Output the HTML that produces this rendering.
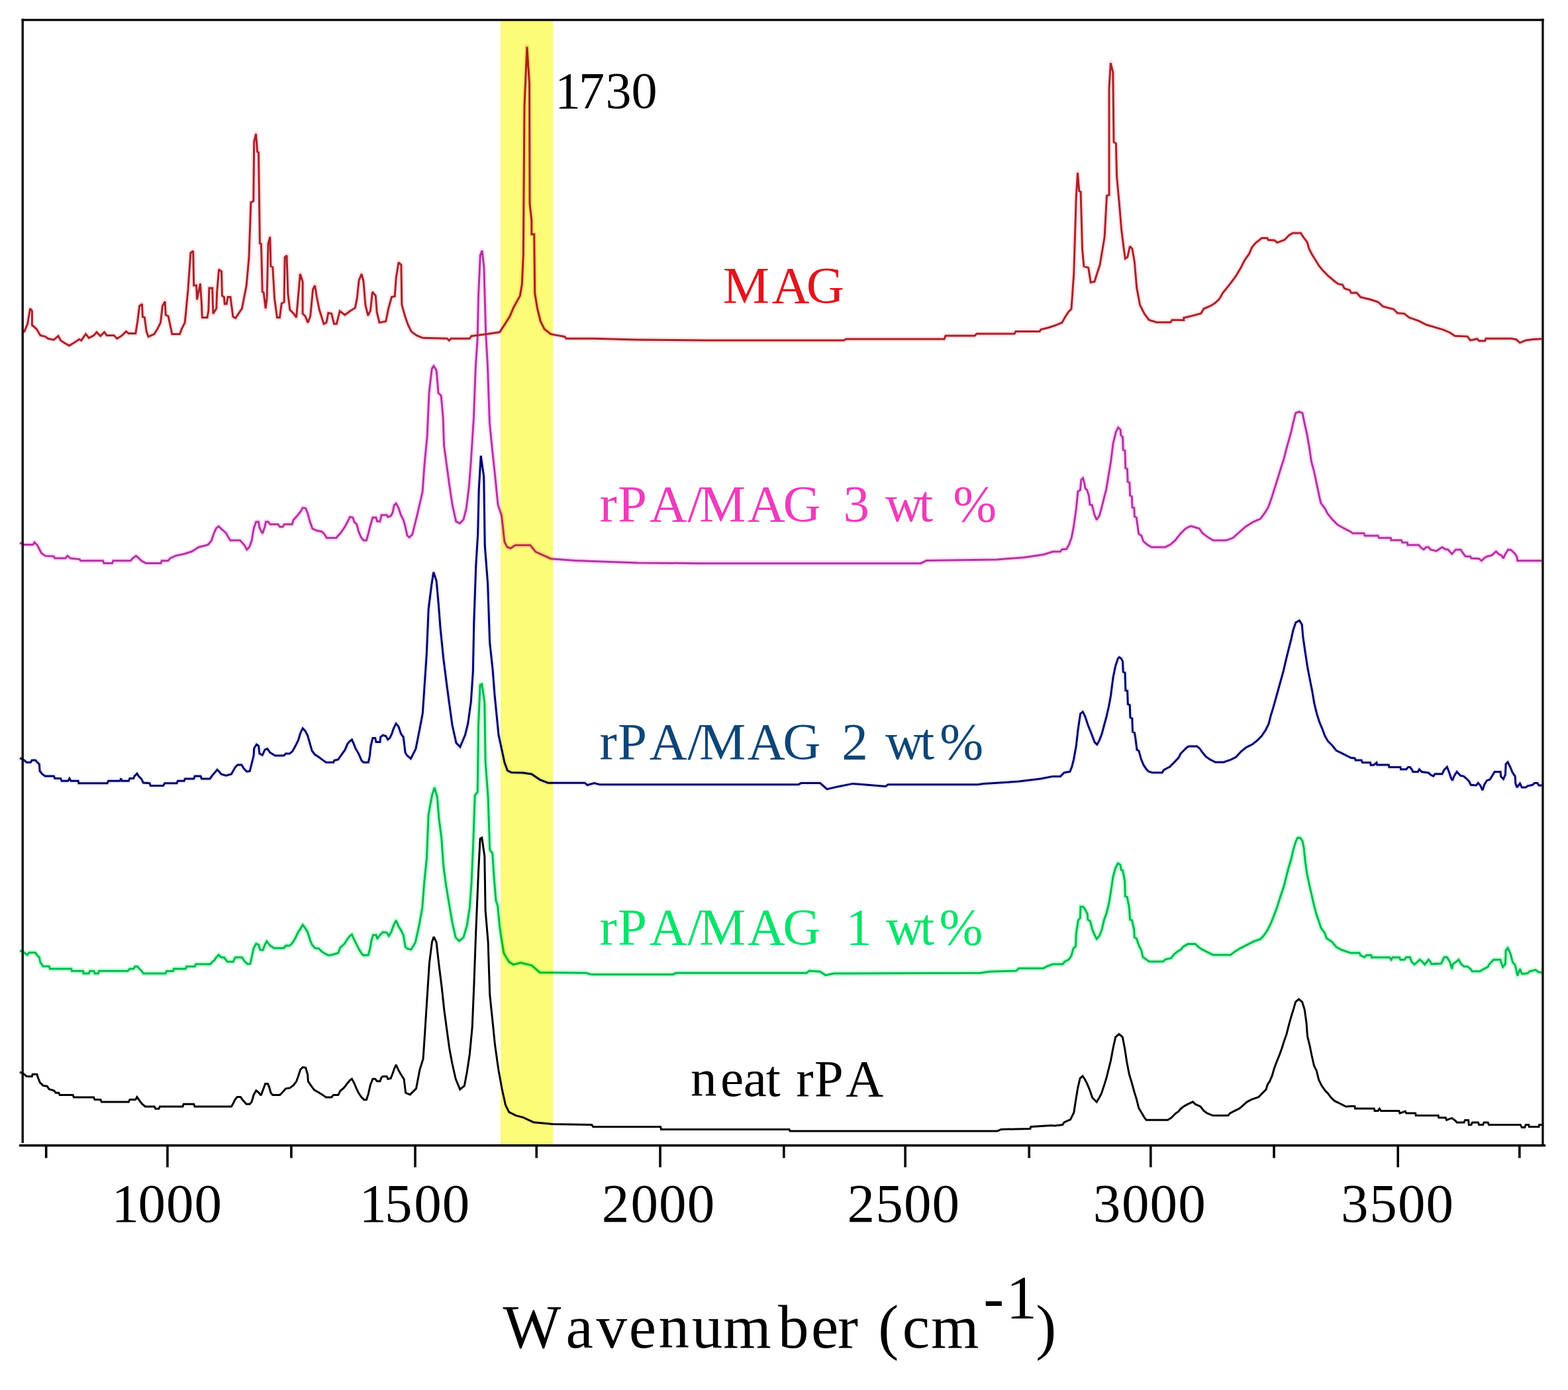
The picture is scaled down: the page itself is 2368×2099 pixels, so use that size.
<!DOCTYPE html><html><head><meta charset="utf-8"><title>FTIR spectra</title><style>html,body{margin:0;padding:0;background:#fff;}svg{display:block}</style></head><body>
<svg width="2368" height="2099" viewBox="0 0 2368 2099">
<rect x="0" y="0" width="2368" height="2099" fill="#ffffff"/>
<polyline points="30.0,1435.4 36.6,1438.6 41.0,1442.0 43.9,1438.6 53.5,1438.6 55.7,1442.0 59.4,1445.7 60.8,1453.0 65.2,1459.2 74.0,1459.2 75.5,1463.0 107.8,1463.0 108.5,1466.2 125.4,1466.2 126.1,1469.9 134.2,1469.9 135.7,1466.2 141.6,1466.2 143.0,1469.9 148.2,1469.9 149.6,1466.2 192.9,1466.2 195.9,1463.0 201.7,1463.0 203.9,1459.6 207.6,1459.6 210.5,1463.0 214.2,1466.5 216.4,1469.9 250.2,1469.9 251.6,1466.5 261.2,1466.5 262.6,1463.0 280.3,1463.0 281.7,1459.6 294.2,1459.6 295.7,1456.0 317.7,1456.0 320.6,1452.3 323.7,1450.1 326.6,1445.7 330.3,1442.0 333.9,1445.7 338.3,1445.7 343.5,1452.3 352.3,1452.3 355.2,1445.7 365.5,1445.7 369.9,1452.3 374.3,1456.0 378.0,1455.2 380.2,1445.0 383.1,1431.7 386.8,1425.1 390.5,1426.6 392.7,1433.9 397.1,1434.7 400.0,1426.6 402.9,1421.5 405.1,1424.4 408.1,1428.1 413.9,1431.7 428.6,1431.7 431.6,1428.1 437.4,1428.1 441.8,1423.7 446.2,1416.3 449.9,1408.3 454.3,1401.6 457.2,1396.5 460.9,1401.6 464.6,1407.5 468.2,1419.3 471.2,1426.6 475.6,1431.7 481.5,1432.5 485.9,1436.9 490.3,1439.8 496.1,1442.7 500.5,1442.0 510.8,1439.1 513.7,1431.0 520.3,1425.1 524.8,1417.8 528.4,1413.4 531.4,1411.2 535.0,1419.3 538.7,1426.6 542.4,1433.9 546.0,1439.8 549.0,1442.7 556.3,1442.0 559.2,1431.0 560.7,1420.7 563.7,1411.9 568.1,1411.9 569.5,1417.8 573.9,1411.9 578.3,1407.5 584.2,1408.3 587.1,1413.4 590.8,1407.5 594.5,1397.2 598.1,1389.9 601.8,1398.7 605.5,1404.6 609.2,1411.9 612.1,1429.5 615.0,1432.5 620.6,1434.1 627.2,1423.5 632.5,1399.7 637.8,1370.6 640.4,1336.2 644.4,1296.5 647.1,1230.3 652.4,1201.2 656.3,1189.3 660.3,1203.8 662.9,1235.6 666.9,1267.3 669.6,1307.0 673.5,1336.2 678.8,1367.9 682.8,1391.7 688.1,1415.6 693.4,1420.9 700.0,1415.6 705.3,1397.0 709.3,1370.6 711.9,1336.2 714.6,1275.3 717.2,1201.2 721.2,1195.9 722.5,1095.3 725.1,1034.4 727.8,1033.1 731.8,1060.9 733.1,1150.9 737.1,1203.8 739.7,1283.2 743.7,1288.5 746.3,1328.2 749.0,1360.0 751.6,1367.9 754.3,1397.0 756.9,1415.6 760.9,1439.4 768.8,1452.6 775.4,1456.6 786.4,1453.7 802.9,1457.8 815.2,1468.5 885.1,1469.3 893.3,1471.4 1016.6,1471.4 1020.7,1469.3 1218.0,1469.3 1222.1,1466.0 1238.6,1467.3 1246.8,1472.6 1259.1,1470.1 1481.1,1469.3 1493.4,1467.3 1534.5,1466.0 1538.6,1462.3 1575.6,1462.3 1581.8,1459.0 1590.0,1456.1 1604.6,1456.1 1608.2,1451.9 1614.3,1448.8 1617.9,1443.4 1621.0,1432.4 1624.6,1428.8 1625.2,1410.6 1628.3,1389.9 1631.3,1386.3 1631.9,1369.3 1635.5,1369.3 1638.6,1372.9 1642.2,1380.2 1642.8,1388.7 1646.5,1391.1 1649.5,1403.3 1653.1,1411.8 1656.2,1417.9 1660.4,1413.0 1664.1,1403.9 1667.1,1389.9 1670.8,1379.6 1674.4,1365.6 1677.4,1348.0 1681.1,1323.1 1684.7,1310.4 1688.4,1303.7 1692.0,1306.1 1693.2,1313.4 1695.6,1314.6 1698.7,1330.4 1699.3,1353.5 1702.3,1354.7 1705.4,1371.7 1706.6,1388.7 1709.6,1389.9 1712.6,1403.3 1713.3,1415.4 1716.3,1417.3 1719.9,1427.6 1723.6,1434.9 1726.0,1445.2 1730.9,1448.8 1735.7,1451.9 1756.4,1451.9 1760.0,1448.8 1768.5,1447.0 1773.4,1440.9 1779.4,1436.1 1782.7,1434.5 1786.8,1429.7 1793.7,1425.6 1805.3,1425.6 1808.8,1429.0 1814.2,1433.2 1819.7,1435.9 1826.6,1439.3 1832.1,1442.1 1858.1,1442.1 1863.6,1437.9 1873.2,1431.8 1884.1,1426.3 1893.7,1421.5 1903.3,1418.1 1908.8,1412.6 1914.2,1404.4 1919.7,1393.4 1924.5,1381.1 1928.6,1370.1 1932.0,1359.2 1935.5,1348.2 1938.9,1338.6 1942.3,1324.9 1945.8,1311.2 1949.9,1297.5 1953.3,1282.5 1956.7,1271.5 1959.5,1265.3 1963.6,1265.3 1967.0,1270.1 1969.0,1279.7 1971.1,1300.3 1973.8,1319.5 1977.9,1338.6 1981.4,1353.7 1984.8,1368.8 1988.2,1381.1 1991.6,1390.7 1995.1,1401.6 2000.5,1408.5 2003.3,1416.7 2011.5,1422.2 2018.4,1430.4 2026.6,1434.5 2036.2,1437.9 2040.0,1438.9 2053.2,1438.9 2054.7,1442.6 2060.5,1445.5 2063.5,1442.6 2070.8,1442.6 2071.6,1445.8 2098.7,1445.8 2100.9,1449.2 2103.1,1445.8 2113.4,1445.8 2114.9,1449.2 2120.7,1449.2 2123.7,1445.5 2129.5,1445.5 2131.7,1452.1 2136.1,1456.5 2144.2,1449.2 2148.6,1452.8 2151.6,1456.5 2157.4,1449.2 2160.4,1452.8 2161.8,1455.8 2176.5,1455.0 2180.9,1445.5 2185.3,1445.5 2189.7,1452.8 2192.7,1463.1 2194.1,1455.8 2198.5,1452.8 2202.9,1449.2 2206.6,1455.8 2211.0,1459.4 2216.1,1459.4 2220.5,1463.1 2223.5,1466.8 2235.2,1466.8 2241.1,1463.1 2247.0,1460.2 2249.2,1455.8 2255.8,1449.2 2266.0,1449.2 2266.8,1452.8 2269.7,1460.2 2273.4,1455.8 2274.1,1435.2 2277.0,1431.6 2280.7,1438.9 2284.4,1452.8 2288.1,1457.2 2289.5,1463.1 2291.7,1473.4 2295.4,1463.1 2298.3,1470.5 2307.1,1469.7 2310.1,1466.8 2318.9,1464.6 2322.5,1467.5 2328.4,1469.0" stroke="#c8ffd8" fill="none" stroke-width="8" stroke-linejoin="round"/>
<polyline points="30.0,1144.7 35.9,1147.6 40.3,1151.3 46.1,1151.3 48.3,1148.0 53.5,1148.0 56.4,1151.3 59.4,1154.2 60.1,1164.5 63.8,1168.9 68.2,1172.1 81.4,1172.1 82.8,1175.5 91.6,1175.5 93.1,1179.2 102.7,1179.2 104.9,1175.5 107.1,1179.2 118.1,1179.2 118.8,1182.8 162.1,1182.8 163.6,1179.2 181.2,1179.2 182.7,1175.5 184.1,1179.2 194.4,1179.2 195.9,1175.5 201.7,1175.5 203.2,1171.8 206.9,1168.2 209.8,1172.6 213.5,1176.2 216.4,1182.1 226.0,1182.8 227.4,1186.5 246.5,1186.5 248.7,1182.8 267.0,1182.8 268.5,1179.2 278.1,1179.2 279.5,1175.9 292.7,1175.9 294.2,1172.1 303.0,1172.1 304.5,1175.9 317.0,1175.9 320.0,1171.8 323.7,1167.4 328.1,1162.3 331.7,1166.0 333.9,1168.9 341.3,1171.1 349.4,1168.9 355.2,1158.6 358.9,1154.9 364.8,1154.9 368.4,1160.8 372.8,1165.2 377.2,1164.5 380.2,1152.7 383.1,1141.0 383.8,1130.0 387.5,1124.1 390.5,1126.3 391.9,1138.1 396.3,1140.3 400.0,1132.2 403.7,1130.7 408.1,1136.6 415.4,1141.0 428.6,1141.0 431.6,1138.1 437.4,1138.1 441.8,1134.4 446.2,1126.3 450.6,1117.5 453.6,1107.2 457.2,1099.9 460.9,1103.6 464.6,1110.9 468.2,1123.4 471.2,1133.7 475.6,1139.5 481.5,1143.2 487.3,1147.6 492.5,1151.3 503.5,1151.3 504.9,1148.3 510.8,1146.9 513.7,1142.5 521.1,1132.2 524.8,1123.4 528.4,1119.0 531.4,1116.8 534.3,1123.4 537.2,1130.7 541.6,1138.1 546.0,1148.3 549.0,1151.3 556.3,1151.3 558.5,1141.0 560.0,1126.3 562.9,1114.6 566.6,1114.6 568.0,1120.5 573.9,1120.5 574.7,1113.1 578.3,1110.2 582.7,1111.6 585.7,1116.8 588.6,1114.6 591.5,1108.7 594.5,1099.9 598.1,1092.6 601.8,1097.0 605.5,1108.0 609.2,1113.1 612.1,1136.6 615.0,1141.0 620.4,1145.7 627.9,1130.8 633.8,1101.0 638.3,1077.2 641.3,1032.5 644.3,987.8 647.2,919.2 651.7,883.5 654.7,864.1 659.2,877.5 662.1,910.3 665.1,949.0 669.6,993.7 674.1,1029.5 678.5,1062.3 683.0,1095.0 689.0,1121.9 694.9,1127.8 702.4,1110.0 706.8,1092.1 711.3,1059.3 714.3,1014.6 715.8,940.1 718.8,853.7 721.7,806.0 723.2,739.0 726.2,688.3 730.7,719.6 732.2,823.9 736.6,880.5 739.6,969.9 744.1,1011.6 747.1,1050.4 753.0,1109.9 757.5,1130.8 762.0,1151.7 766.4,1163.6 772.4,1166.6 790.0,1167.0 802.9,1169.0 815.2,1177.3 827.5,1182.2 883.0,1182.2 887.1,1185.5 897.4,1182.6 905.6,1184.7 1205.7,1184.7 1209.8,1182.6 1238.6,1182.6 1248.8,1191.7 1263.2,1188.4 1287.9,1183.4 1304.3,1184.7 1337.2,1187.5 1341.3,1184.7 1476.9,1184.7 1485.2,1183.4 1538.6,1180.1 1571.5,1176.0 1590.0,1172.4 1601.5,1172.4 1607.2,1166.7 1615.8,1165.2 1618.7,1158.1 1621.6,1146.6 1625.2,1126.5 1628.0,1102.1 1631.6,1077.7 1635.2,1074.9 1638.8,1082.0 1643.1,1095.0 1648.8,1109.3 1653.1,1120.8 1656.7,1124.4 1660.3,1117.9 1663.9,1108.6 1667.5,1095.0 1671.1,1082.0 1674.6,1066.3 1677.5,1050.5 1681.1,1022.5 1684.7,1005.3 1688.3,994.5 1690.4,992.4 1693.3,994.5 1695.5,998.8 1696.2,1014.6 1699.0,1016.0 1699.8,1042.6 1702.6,1043.3 1703.3,1063.4 1706.2,1064.8 1706.9,1083.5 1709.8,1084.9 1710.5,1105.0 1713.4,1106.4 1714.8,1115.0 1717.0,1132.3 1719.8,1133.7 1723.4,1146.6 1727.0,1155.2 1731.3,1161.7 1734.9,1165.2 1740.6,1166.7 1755.0,1166.7 1757.9,1162.4 1766.5,1158.1 1773.6,1150.9 1780.0,1144.1 1783.1,1137.9 1787.0,1134.0 1792.4,1128.6 1795.5,1127.1 1807.8,1127.1 1811.7,1130.2 1815.5,1135.6 1821.0,1142.5 1827.9,1147.2 1835.6,1151.0 1848.0,1151.0 1858.8,1147.2 1866.5,1143.3 1874.3,1134.8 1882.0,1128.6 1891.3,1124.0 1899.0,1117.8 1905.2,1111.6 1911.4,1102.4 1916.0,1093.1 1919.1,1080.7 1922.9,1068.4 1926.8,1054.4 1930.7,1040.5 1934.5,1026.6 1938.4,1012.7 1942.3,995.7 1946.1,980.3 1950.0,964.8 1953.1,950.9 1956.9,940.1 1962.4,937.0 1966.2,943.2 1967.8,961.7 1970.9,983.4 1974.7,1008.1 1978.6,1028.2 1981.7,1043.6 1984.8,1062.2 1988.6,1077.6 1992.5,1090.0 1996.4,1099.3 2001.0,1111.6 2005.6,1119.4 2011.8,1125.5 2018.0,1133.3 2027.3,1137.9 2036.5,1142.5 2040.0,1144.2 2045.9,1145.0 2047.3,1147.9 2056.1,1147.9 2057.6,1151.6 2069.4,1151.6 2070.1,1155.2 2074.5,1155.2 2078.9,1151.6 2079.6,1154.9 2097.2,1154.9 2098.0,1158.5 2114.9,1158.5 2115.6,1161.8 2123.7,1161.8 2126.6,1158.5 2129.5,1158.5 2132.5,1162.6 2133.9,1165.5 2141.3,1165.5 2143.5,1161.8 2147.1,1165.5 2157.4,1167.0 2160.4,1169.9 2164.8,1172.1 2167.0,1168.7 2178.0,1168.7 2180.9,1162.6 2185.3,1158.2 2188.2,1165.5 2191.2,1174.3 2193.4,1178.7 2195.6,1172.8 2200.0,1165.5 2202.9,1168.4 2205.9,1171.4 2210.3,1172.1 2214.7,1175.8 2218.3,1179.4 2221.3,1185.3 2229.3,1186.0 2232.3,1182.4 2236.0,1186.8 2238.9,1193.4 2241.8,1184.6 2245.5,1178.7 2249.9,1177.2 2253.6,1171.4 2257.2,1165.5 2266.0,1165.5 2266.8,1172.8 2270.4,1176.5 2273.4,1169.9 2274.1,1153.8 2277.0,1150.8 2280.7,1158.2 2284.4,1167.0 2288.1,1172.1 2288.8,1183.1 2291.0,1189.0 2295.4,1183.1 2298.3,1189.0 2304.2,1189.0 2307.1,1186.8 2314.5,1185.3 2317.4,1182.4 2321.8,1182.4 2324.0,1186.0 2328.4,1186.0" stroke="#f0f0ff" fill="none" stroke-width="8" stroke-linejoin="round"/>
<polyline points="30.0,819.6 35.9,822.6 49.8,822.6 52.0,818.9 56.4,823.3 59.4,829.2 62.3,835.0 68.2,839.4 81.4,840.2 82.8,843.1 99.0,843.1 101.9,839.4 106.3,843.1 120.3,844.6 121.7,846.8 155.5,846.8 157.0,850.4 169.4,850.4 170.9,846.8 197.3,846.8 200.3,843.1 205.4,839.4 208.3,841.6 213.5,846.8 220.1,850.4 242.8,850.4 244.3,846.8 253.8,846.8 256.8,843.1 264.8,839.4 278.1,836.5 289.8,832.8 300.1,826.2 314.0,822.6 319.2,816.7 322.9,805.7 326.6,797.6 330.3,794.7 333.9,798.3 341.3,804.9 345.0,811.5 347.9,816.0 362.6,816.0 369.2,823.3 372.8,829.9 376.5,826.2 380.2,816.0 383.1,798.3 386.8,788.1 390.5,788.1 391.9,796.9 396.3,805.7 400.0,795.4 401.5,788.1 405.1,788.1 408.1,791.7 419.8,791.7 422.7,795.4 427.1,795.4 429.3,791.7 441.1,791.7 443.3,785.1 449.2,778.5 454.3,771.9 457.2,766.8 461.6,767.5 464.6,774.9 468.2,788.1 471.9,798.3 478.5,801.3 485.9,802.7 490.3,807.1 493.2,812.3 507.9,812.3 510.8,808.6 514.5,804.9 520.4,796.1 524.8,788.1 528.4,780.7 532.8,781.5 535.0,788.1 538.7,791.7 541.6,802.7 545.3,811.5 549.0,816.0 553.4,816.0 556.3,805.7 559.2,793.9 562.9,781.5 568.0,781.5 569.5,787.3 573.9,787.3 576.1,777.8 584.2,777.8 585.7,780.7 590.1,779.3 593.0,774.1 595.2,763.1 598.1,760.2 601.8,766.8 605.5,777.8 609.2,785.1 612.1,795.4 615.0,808.6 618.0,811.5 622.7,807.1 629.7,779.0 638.1,742.5 640.9,703.1 645.2,658.1 648.0,593.4 652.2,556.9 655.0,552.6 659.2,559.7 662.0,593.4 666.2,597.6 669.1,630.0 670.5,672.2 674.7,703.1 678.9,734.0 683.1,762.1 688.7,787.4 694.4,790.3 700.0,784.6 704.2,767.8 708.4,734.0 711.2,697.5 715.5,630.0 718.3,554.0 721.1,511.9 722.5,447.2 725.3,385.3 728.1,378.3 730.9,403.6 733.7,503.4 736.5,554.0 739.4,638.4 743.6,680.6 747.8,720.0 752.0,762.1 757.6,779.0 761.9,818.4 766.0,826.0 771.0,828.0 778.2,823.2 800.8,823.2 809.0,833.4 831.7,843.7 868.6,846.6 963.2,849.9 1053.6,850.7 1390.6,850.7 1398.9,846.6 1505.7,844.9 1546.8,841.7 1575.6,837.5 1590.0,833.1 1601.0,833.1 1603.8,829.7 1610.7,829.0 1614.8,821.4 1618.3,811.7 1621.0,797.9 1625.2,769.0 1627.9,742.1 1631.4,740.0 1632.8,724.8 1635.5,722.1 1637.6,729.0 1639.0,737.2 1641.7,740.0 1644.5,749.0 1645.9,762.1 1649.3,762.8 1652.8,777.2 1656.2,784.8 1660.3,778.6 1663.8,766.2 1667.2,752.4 1670.7,738.6 1674.1,717.9 1677.6,697.2 1681.0,669.7 1685.2,652.4 1688.6,645.5 1692.1,649.0 1692.8,657.2 1695.5,660.0 1696.2,679.3 1699.0,680.7 1699.7,706.9 1702.4,708.3 1703.1,727.6 1705.9,729.0 1706.6,748.3 1709.3,749.7 1710.0,766.2 1712.8,766.9 1713.4,780.0 1716.2,781.4 1719.7,806.2 1723.8,809.0 1726.6,817.2 1732.1,822.1 1739.0,826.2 1759.7,826.2 1768.0,822.1 1774.8,815.9 1783.0,805.6 1790.4,798.2 1797.9,794.5 1801.6,795.2 1811.3,798.2 1815.8,804.9 1824.7,811.6 1832.2,816.1 1851.5,816.1 1862.0,812.3 1869.4,805.6 1881.3,795.2 1893.2,787.8 1903.7,783.3 1911.1,772.9 1915.6,765.4 1920.8,750.5 1924.5,738.6 1928.3,726.7 1932.0,714.7 1935.7,702.8 1938.7,693.9 1942.4,679.0 1946.1,665.6 1949.9,652.2 1952.9,638.7 1956.6,623.8 1961.8,621.6 1967.0,623.8 1970.0,638.7 1973.7,655.1 1977.4,676.0 1980.4,696.9 1984.1,710.3 1987.9,728.1 1990.8,741.6 1994.6,759.4 2001.3,768.4 2005.0,775.8 2012.4,784.8 2019.9,792.2 2030.3,798.2 2039.3,802.7 2042.9,805.2 2059.8,805.2 2061.3,809.1 2081.1,809.1 2082.6,812.3 2100.2,812.3 2100.9,815.7 2116.3,815.7 2117.8,819.3 2125.1,819.3 2125.9,822.9 2142.7,822.9 2145.7,826.7 2150.1,829.9 2153.8,826.2 2157.4,826.2 2160.4,829.9 2169.2,832.1 2178.0,826.2 2182.4,829.2 2186.8,829.9 2192.7,836.5 2198.5,829.9 2205.9,829.9 2210.3,836.5 2213.2,840.2 2220.5,840.2 2222.0,843.1 2233.7,843.8 2237.4,846.8 2241.1,843.1 2245.5,840.2 2252.8,838.7 2255.8,835.8 2259.4,832.8 2263.1,836.5 2267.5,838.7 2270.4,843.1 2273.4,836.5 2277.8,829.9 2282.2,830.6 2284.4,832.8 2288.1,836.5 2291.0,841.6 2291.7,846.8 2328.4,846.8" stroke="#ffe0fc" fill="none" stroke-width="8" stroke-linejoin="round"/>
<polyline points="34.5,500.6 36.8,500.6 41.6,489.0 45.5,465.9 48.4,469.7 48.4,491.0 55.1,496.8 60.9,506.4 68.6,508.4 72.5,511.3 81.2,513.2 88.0,507.4 91.8,514.2 97.6,518.0 104.4,521.9 111.1,518.0 119.8,512.2 122.7,514.2 129.5,504.5 134.3,510.3 142.0,506.4 145.9,501.6 151.7,507.4 157.5,501.6 161.3,506.4 172.0,506.4 176.8,511.3 184.5,506.4 190.3,500.6 194.2,503.5 204.8,503.5 207.7,485.2 210.6,462.0 214.5,459.1 215.4,478.4 218.3,479.4 221.2,500.6 224.1,508.4 232.8,504.5 237.7,496.8 242.5,487.1 245.4,462.0 249.2,455.3 250.2,475.5 254.1,477.5 257.0,491.0 259.9,504.5 271.5,504.5 274.3,496.8 279.2,487.1 281.1,467.8 284.0,436.9 287.9,381.9 291.7,379.0 292.7,431.1 296.6,431.1 297.5,452.4 302.4,428.2 304.3,456.2 305.3,479.4 313.0,479.4 314.9,468.8 315.9,435.0 320.7,435.0 321.9,473.6 326.8,465.9 327.7,440.8 330.6,407.0 334.5,409.9 335.5,446.6 338.4,448.5 339.3,459.1 342.2,459.1 344.1,448.5 348.0,448.5 351.9,478.4 355.7,480.4 365.4,465.9 372.2,431.1 376.0,388.6 378.9,305.6 382.8,303.6 383.7,213.8 386.6,202.2 388.6,229.3 390.5,230.2 392.4,367.4 394.4,368.3 396.3,440.8 398.2,441.7 401.1,465.9 403.1,450.4 405.0,368.3 407.9,357.7 408.9,402.1 411.8,403.1 414.6,451.4 418.5,479.4 422.4,479.4 425.3,458.2 429.1,456.2 430.1,388.6 433.0,385.7 434.9,443.7 437.8,467.8 443.6,473.6 447.5,479.4 450.4,447.5 453.3,413.7 457.1,425.3 457.1,473.6 461.0,477.5 464.9,487.1 468.7,477.5 472.6,436.9 475.5,431.1 478.4,448.5 482.3,467.8 489.0,489.1 492.9,487.1 495.8,472.6 500.6,473.6 504.5,489.1 508.3,489.1 513.2,469.7 520.9,475.5 528.6,469.7 536.3,464.9 539.2,450.4 542.1,423.4 546.0,413.7 548.9,424.3 551.8,460.1 555.7,476.5 559.5,468.8 562.4,440.8 567.3,446.6 569.2,471.7 573.0,487.1 582.7,485.2 586.6,465.9 591.4,448.5 596.2,447.5 598.2,419.5 602.0,396.3 605.9,400.2 606.8,460.1 611.6,477.5 616.4,491.0 621.2,500.6 629.0,506.4 638.6,510.3 675.3,511.3 678.2,514.2 681.1,511.3 709.1,511.3 712.0,507.4 735.2,504.5 754.5,501.6 760.3,492.9 770.0,477.5 775.8,464.0 785.4,446.6 788.3,429.2 790.3,384.8 792.0,160.0 795.9,70.5 799.5,126.0 800.0,307.5 802.8,332.6 802.8,353.8 806.7,353.8 807.7,442.7 811.5,465.9 816.3,485.2 822.1,496.8 831.8,504.5 841.5,506.4 853.0,508.4 855.0,511.3 897.5,511.3 960.0,513.0 1070.0,514.0 1274.0,514.0 1278.0,512.0 1426.0,512.0 1428.0,507.0 1472.0,507.0 1475.0,504.0 1532.0,504.0 1534.0,500.6 1570.0,500.6 1572.0,497.5 1583.5,494.7 1595.0,490.9 1603.9,487.0 1609.0,478.0 1614.0,470.5 1617.9,466.7 1619.2,450.0 1621.7,413.7 1625.2,299.0 1627.5,260.8 1629.8,288.6 1632.1,289.7 1634.5,375.5 1636.8,402.1 1643.7,404.4 1647.2,426.5 1653.0,425.3 1656.5,413.7 1661.1,399.8 1668.1,358.1 1671.5,295.5 1675.0,294.4 1675.0,133.3 1677.3,95.1 1680.8,109.0 1682.0,214.4 1685.4,216.7 1686.6,266.6 1690.1,304.8 1693.6,346.5 1697.0,374.3 1699.3,390.5 1702.8,388.2 1706.3,372.0 1709.8,375.5 1713.3,395.2 1716.7,434.6 1721.4,460.1 1728.3,474.0 1735.3,483.2 1746.9,486.7 1767.7,486.7 1770.0,483.2 1787.8,483.4 1787.8,480.0 1804.2,475.9 1813.8,473.2 1817.9,466.3 1827.5,462.2 1834.4,458.1 1841.2,451.9 1846.7,442.3 1857.7,428.6 1865.9,417.7 1874.1,404.0 1879.6,393.0 1886.4,383.4 1890.5,373.8 1896.0,367.0 1905.6,359.5 1913.8,359.5 1915.2,362.2 1924.8,362.9 1928.9,366.3 1939.9,362.2 1946.7,355.3 1952.2,351.9 1964.5,351.9 1967.3,356.7 1974.1,365.6 1976.8,375.2 1981.0,383.4 1985.1,390.3 1991.9,401.2 1997.4,408.1 2005.6,416.3 2015.2,424.5 2020.7,428.6 2027.5,430.0 2030.3,435.5 2038.5,438.2 2040.5,442.3 2048.8,442.0 2054.7,448.6 2069.4,452.3 2081.1,456.0 2088.4,462.6 2104.6,467.0 2110.5,472.8 2120.7,473.6 2128.1,479.4 2142.7,484.6 2154.5,490.5 2169.2,494.9 2179.4,497.8 2189.7,502.2 2197.0,507.3 2216.1,508.1 2220.5,513.9 2230.8,511.7 2233.7,514.7 2242.6,514.7 2244.0,511.3 2282.2,511.3 2289.5,512.5 2295.4,517.6 2304.2,513.9 2314.5,512.5 2328.4,511.7" stroke="#ffe4e8" fill="none" stroke-width="8" stroke-linejoin="round"/>
<polyline points="30.0,1618.9 35.9,1621.8 40.3,1625.5 48.3,1625.5 49.1,1622.3 55.7,1622.3 57.9,1628.4 60.1,1634.3 65.2,1639.4 71.1,1640.2 74.0,1644.6 81.4,1646.8 84.3,1650.2 88.7,1650.2 90.2,1653.4 110.0,1653.4 111.5,1657.1 141.6,1657.1 143.0,1660.4 151.8,1660.4 153.3,1664.0 194.4,1664.0 195.9,1660.4 204.7,1660.4 206.9,1656.6 209.8,1660.7 214.2,1666.6 219.3,1671.0 233.3,1671.0 234.8,1674.2 239.9,1674.2 241.4,1671.0 275.9,1671.0 277.3,1667.3 292.7,1667.3 294.2,1671.0 349.4,1671.0 351.6,1667.3 355.2,1660.0 358.2,1656.6 363.3,1656.6 366.2,1660.7 372.1,1667.3 377.2,1667.3 380.2,1663.7 383.1,1653.4 386.8,1646.8 390.5,1649.7 394.1,1654.1 397.1,1646.1 400.7,1636.5 404.4,1636.5 406.6,1641.6 408.8,1649.7 411.7,1653.4 422.7,1653.4 425.7,1650.5 431.6,1643.8 437.4,1643.1 443.3,1638.7 447.7,1632.8 450.6,1624.8 453.6,1615.2 457.2,1611.6 461.6,1612.3 464.6,1622.6 465.3,1632.8 469.7,1639.4 474.8,1646.1 481.5,1649.7 487.3,1653.4 492.5,1657.1 500.5,1657.1 503.5,1653.4 510.8,1653.4 513.7,1647.5 518.9,1643.1 524.8,1635.8 528.4,1631.4 531.4,1629.2 535.0,1635.8 538.0,1643.1 541.6,1650.5 546.0,1657.1 549.7,1660.7 553.4,1660.7 556.3,1651.9 559.2,1638.7 562.9,1629.2 566.6,1629.2 569.5,1632.8 573.9,1632.8 576.1,1627.0 578.3,1625.5 584.2,1625.5 585.7,1629.2 590.1,1628.4 593.0,1621.1 595.2,1614.5 598.1,1607.9 601.8,1616.0 605.5,1622.6 609.2,1628.4 610.0,1629.1 612.6,1650.3 619.3,1652.9 628.5,1643.7 633.8,1615.9 639.1,1598.7 641.8,1557.6 644.4,1516.6 648.4,1454.4 652.4,1422.6 655.0,1414.7 659.0,1422.6 662.9,1457.0 666.9,1488.8 670.9,1525.9 674.8,1555.0 678.8,1584.1 682.8,1605.3 688.1,1629.1 694.7,1645.0 701.3,1639.7 705.3,1618.5 709.3,1592.0 713.2,1551.0 715.9,1486.2 718.5,1413.4 722.5,1316.8 725.1,1266.5 727.8,1265.1 731.8,1292.9 733.1,1375.0 737.1,1422.6 739.7,1502.0 743.7,1540.4 747.6,1578.8 752.9,1615.9 758.2,1645.0 763.5,1668.8 768.8,1679.4 779.4,1684.7 790.0,1687.3 805.7,1694.7 835.0,1697.6 893.7,1698.6 895.7,1701.5 997.5,1701.5 998.5,1705.4 1192.0,1705.4 1193.0,1708.0 1505.0,1708.0 1507.8,1707.4 1511.7,1705.4 1555.8,1704.5 1556.8,1701.5 1588.0,1699.6 1592.6,1699.9 1604.6,1698.5 1607.2,1694.6 1616.5,1690.6 1621.8,1680.0 1624.4,1662.8 1627.7,1642.9 1631.1,1628.3 1635.0,1625.0 1638.3,1629.7 1641.7,1636.3 1645.6,1645.6 1649.6,1657.5 1656.2,1664.1 1660.2,1657.5 1663.5,1650.9 1667.5,1638.9 1670.8,1628.3 1674.1,1615.1 1677.4,1601.9 1681.4,1580.7 1684.7,1566.1 1690.0,1561.5 1695.3,1566.1 1698.6,1583.3 1701.9,1604.5 1705.2,1621.7 1709.2,1635.0 1713.2,1649.5 1716.5,1660.1 1719.8,1673.4 1723.8,1680.0 1727.7,1686.6 1731.1,1691.3 1763.5,1691.3 1768.8,1688.0 1775.4,1681.3 1780.0,1678.2 1782.9,1674.6 1787.2,1671.0 1793.6,1667.4 1801.5,1663.8 1805.1,1667.4 1813.0,1671.0 1818.0,1677.5 1823.1,1681.1 1831.7,1684.6 1854.6,1684.6 1857.5,1681.1 1863.2,1678.2 1871.8,1673.9 1877.6,1668.9 1883.3,1663.8 1890.5,1660.2 1900.6,1656.7 1906.3,1650.9 1912.0,1645.2 1914.2,1638.0 1917.8,1632.3 1921.4,1623.7 1924.2,1613.6 1928.5,1602.1 1932.1,1593.5 1935.7,1583.5 1939.3,1572.0 1942.9,1561.9 1946.5,1547.6 1950.1,1534.7 1953.7,1523.2 1956.5,1513.1 1961.5,1508.8 1966.6,1513.1 1970.2,1524.6 1973.0,1544.7 1974.5,1564.8 1978.0,1579.2 1980.9,1593.5 1984.5,1609.3 1988.1,1616.5 1991.7,1630.8 1996.0,1639.4 2001.0,1646.6 2005.3,1650.9 2009.6,1656.7 2015.4,1662.4 2024.0,1666.7 2032.6,1671.0 2040.0,1670.5 2045.9,1670.5 2046.6,1674.1 2075.2,1674.1 2076.0,1677.4 2081.1,1677.4 2083.3,1674.1 2085.5,1677.4 2112.7,1677.4 2114.1,1681.1 2122.2,1678.2 2123.7,1681.1 2137.6,1681.1 2138.3,1684.5 2172.1,1684.5 2172.8,1687.7 2183.1,1687.7 2184.6,1691.4 2192.6,1688.4 2198.5,1692.8 2200.0,1695.0 2211.0,1695.0 2212.5,1691.4 2217.6,1691.4 2218.3,1698.4 2222.0,1698.4 2223.5,1695.0 2232.3,1695.0 2233.7,1698.4 2239.6,1698.4 2241.1,1695.0 2247.0,1695.0 2248.4,1698.4 2296.1,1698.4 2298.3,1702.4 2302.7,1702.4 2304.2,1698.4 2308.6,1698.4 2309.3,1701.6 2324.0,1701.6 2324.7,1698.4 2328.4,1698.4" stroke="#000000" fill="none" stroke-width="3" stroke-linejoin="miter" stroke-miterlimit="2"/>
<polyline points="30.0,1435.4 36.6,1438.6 41.0,1442.0 43.9,1438.6 53.5,1438.6 55.7,1442.0 59.4,1445.7 60.8,1453.0 65.2,1459.2 74.0,1459.2 75.5,1463.0 107.8,1463.0 108.5,1466.2 125.4,1466.2 126.1,1469.9 134.2,1469.9 135.7,1466.2 141.6,1466.2 143.0,1469.9 148.2,1469.9 149.6,1466.2 192.9,1466.2 195.9,1463.0 201.7,1463.0 203.9,1459.6 207.6,1459.6 210.5,1463.0 214.2,1466.5 216.4,1469.9 250.2,1469.9 251.6,1466.5 261.2,1466.5 262.6,1463.0 280.3,1463.0 281.7,1459.6 294.2,1459.6 295.7,1456.0 317.7,1456.0 320.6,1452.3 323.7,1450.1 326.6,1445.7 330.3,1442.0 333.9,1445.7 338.3,1445.7 343.5,1452.3 352.3,1452.3 355.2,1445.7 365.5,1445.7 369.9,1452.3 374.3,1456.0 378.0,1455.2 380.2,1445.0 383.1,1431.7 386.8,1425.1 390.5,1426.6 392.7,1433.9 397.1,1434.7 400.0,1426.6 402.9,1421.5 405.1,1424.4 408.1,1428.1 413.9,1431.7 428.6,1431.7 431.6,1428.1 437.4,1428.1 441.8,1423.7 446.2,1416.3 449.9,1408.3 454.3,1401.6 457.2,1396.5 460.9,1401.6 464.6,1407.5 468.2,1419.3 471.2,1426.6 475.6,1431.7 481.5,1432.5 485.9,1436.9 490.3,1439.8 496.1,1442.7 500.5,1442.0 510.8,1439.1 513.7,1431.0 520.3,1425.1 524.8,1417.8 528.4,1413.4 531.4,1411.2 535.0,1419.3 538.7,1426.6 542.4,1433.9 546.0,1439.8 549.0,1442.7 556.3,1442.0 559.2,1431.0 560.7,1420.7 563.7,1411.9 568.1,1411.9 569.5,1417.8 573.9,1411.9 578.3,1407.5 584.2,1408.3 587.1,1413.4 590.8,1407.5 594.5,1397.2 598.1,1389.9 601.8,1398.7 605.5,1404.6 609.2,1411.9 612.1,1429.5 615.0,1432.5 620.6,1434.1 627.2,1423.5 632.5,1399.7 637.8,1370.6 640.4,1336.2 644.4,1296.5 647.1,1230.3 652.4,1201.2 656.3,1189.3 660.3,1203.8 662.9,1235.6 666.9,1267.3 669.6,1307.0 673.5,1336.2 678.8,1367.9 682.8,1391.7 688.1,1415.6 693.4,1420.9 700.0,1415.6 705.3,1397.0 709.3,1370.6 711.9,1336.2 714.6,1275.3 717.2,1201.2 721.2,1195.9 722.5,1095.3 725.1,1034.4 727.8,1033.1 731.8,1060.9 733.1,1150.9 737.1,1203.8 739.7,1283.2 743.7,1288.5 746.3,1328.2 749.0,1360.0 751.6,1367.9 754.3,1397.0 756.9,1415.6 760.9,1439.4 768.8,1452.6 775.4,1456.6 786.4,1453.7 802.9,1457.8 815.2,1468.5 885.1,1469.3 893.3,1471.4 1016.6,1471.4 1020.7,1469.3 1218.0,1469.3 1222.1,1466.0 1238.6,1467.3 1246.8,1472.6 1259.1,1470.1 1481.1,1469.3 1493.4,1467.3 1534.5,1466.0 1538.6,1462.3 1575.6,1462.3 1581.8,1459.0 1590.0,1456.1 1604.6,1456.1 1608.2,1451.9 1614.3,1448.8 1617.9,1443.4 1621.0,1432.4 1624.6,1428.8 1625.2,1410.6 1628.3,1389.9 1631.3,1386.3 1631.9,1369.3 1635.5,1369.3 1638.6,1372.9 1642.2,1380.2 1642.8,1388.7 1646.5,1391.1 1649.5,1403.3 1653.1,1411.8 1656.2,1417.9 1660.4,1413.0 1664.1,1403.9 1667.1,1389.9 1670.8,1379.6 1674.4,1365.6 1677.4,1348.0 1681.1,1323.1 1684.7,1310.4 1688.4,1303.7 1692.0,1306.1 1693.2,1313.4 1695.6,1314.6 1698.7,1330.4 1699.3,1353.5 1702.3,1354.7 1705.4,1371.7 1706.6,1388.7 1709.6,1389.9 1712.6,1403.3 1713.3,1415.4 1716.3,1417.3 1719.9,1427.6 1723.6,1434.9 1726.0,1445.2 1730.9,1448.8 1735.7,1451.9 1756.4,1451.9 1760.0,1448.8 1768.5,1447.0 1773.4,1440.9 1779.4,1436.1 1782.7,1434.5 1786.8,1429.7 1793.7,1425.6 1805.3,1425.6 1808.8,1429.0 1814.2,1433.2 1819.7,1435.9 1826.6,1439.3 1832.1,1442.1 1858.1,1442.1 1863.6,1437.9 1873.2,1431.8 1884.1,1426.3 1893.7,1421.5 1903.3,1418.1 1908.8,1412.6 1914.2,1404.4 1919.7,1393.4 1924.5,1381.1 1928.6,1370.1 1932.0,1359.2 1935.5,1348.2 1938.9,1338.6 1942.3,1324.9 1945.8,1311.2 1949.9,1297.5 1953.3,1282.5 1956.7,1271.5 1959.5,1265.3 1963.6,1265.3 1967.0,1270.1 1969.0,1279.7 1971.1,1300.3 1973.8,1319.5 1977.9,1338.6 1981.4,1353.7 1984.8,1368.8 1988.2,1381.1 1991.6,1390.7 1995.1,1401.6 2000.5,1408.5 2003.3,1416.7 2011.5,1422.2 2018.4,1430.4 2026.6,1434.5 2036.2,1437.9 2040.0,1438.9 2053.2,1438.9 2054.7,1442.6 2060.5,1445.5 2063.5,1442.6 2070.8,1442.6 2071.6,1445.8 2098.7,1445.8 2100.9,1449.2 2103.1,1445.8 2113.4,1445.8 2114.9,1449.2 2120.7,1449.2 2123.7,1445.5 2129.5,1445.5 2131.7,1452.1 2136.1,1456.5 2144.2,1449.2 2148.6,1452.8 2151.6,1456.5 2157.4,1449.2 2160.4,1452.8 2161.8,1455.8 2176.5,1455.0 2180.9,1445.5 2185.3,1445.5 2189.7,1452.8 2192.7,1463.1 2194.1,1455.8 2198.5,1452.8 2202.9,1449.2 2206.6,1455.8 2211.0,1459.4 2216.1,1459.4 2220.5,1463.1 2223.5,1466.8 2235.2,1466.8 2241.1,1463.1 2247.0,1460.2 2249.2,1455.8 2255.8,1449.2 2266.0,1449.2 2266.8,1452.8 2269.7,1460.2 2273.4,1455.8 2274.1,1435.2 2277.0,1431.6 2280.7,1438.9 2284.4,1452.8 2288.1,1457.2 2289.5,1463.1 2291.7,1473.4 2295.4,1463.1 2298.3,1470.5 2307.1,1469.7 2310.1,1466.8 2318.9,1464.6 2322.5,1467.5 2328.4,1469.0" stroke="#00b955" fill="none" stroke-width="3" stroke-linejoin="miter" stroke-miterlimit="2"/>
<polyline points="30.0,1144.7 35.9,1147.6 40.3,1151.3 46.1,1151.3 48.3,1148.0 53.5,1148.0 56.4,1151.3 59.4,1154.2 60.1,1164.5 63.8,1168.9 68.2,1172.1 81.4,1172.1 82.8,1175.5 91.6,1175.5 93.1,1179.2 102.7,1179.2 104.9,1175.5 107.1,1179.2 118.1,1179.2 118.8,1182.8 162.1,1182.8 163.6,1179.2 181.2,1179.2 182.7,1175.5 184.1,1179.2 194.4,1179.2 195.9,1175.5 201.7,1175.5 203.2,1171.8 206.9,1168.2 209.8,1172.6 213.5,1176.2 216.4,1182.1 226.0,1182.8 227.4,1186.5 246.5,1186.5 248.7,1182.8 267.0,1182.8 268.5,1179.2 278.1,1179.2 279.5,1175.9 292.7,1175.9 294.2,1172.1 303.0,1172.1 304.5,1175.9 317.0,1175.9 320.0,1171.8 323.7,1167.4 328.1,1162.3 331.7,1166.0 333.9,1168.9 341.3,1171.1 349.4,1168.9 355.2,1158.6 358.9,1154.9 364.8,1154.9 368.4,1160.8 372.8,1165.2 377.2,1164.5 380.2,1152.7 383.1,1141.0 383.8,1130.0 387.5,1124.1 390.5,1126.3 391.9,1138.1 396.3,1140.3 400.0,1132.2 403.7,1130.7 408.1,1136.6 415.4,1141.0 428.6,1141.0 431.6,1138.1 437.4,1138.1 441.8,1134.4 446.2,1126.3 450.6,1117.5 453.6,1107.2 457.2,1099.9 460.9,1103.6 464.6,1110.9 468.2,1123.4 471.2,1133.7 475.6,1139.5 481.5,1143.2 487.3,1147.6 492.5,1151.3 503.5,1151.3 504.9,1148.3 510.8,1146.9 513.7,1142.5 521.1,1132.2 524.8,1123.4 528.4,1119.0 531.4,1116.8 534.3,1123.4 537.2,1130.7 541.6,1138.1 546.0,1148.3 549.0,1151.3 556.3,1151.3 558.5,1141.0 560.0,1126.3 562.9,1114.6 566.6,1114.6 568.0,1120.5 573.9,1120.5 574.7,1113.1 578.3,1110.2 582.7,1111.6 585.7,1116.8 588.6,1114.6 591.5,1108.7 594.5,1099.9 598.1,1092.6 601.8,1097.0 605.5,1108.0 609.2,1113.1 612.1,1136.6 615.0,1141.0 620.4,1145.7 627.9,1130.8 633.8,1101.0 638.3,1077.2 641.3,1032.5 644.3,987.8 647.2,919.2 651.7,883.5 654.7,864.1 659.2,877.5 662.1,910.3 665.1,949.0 669.6,993.7 674.1,1029.5 678.5,1062.3 683.0,1095.0 689.0,1121.9 694.9,1127.8 702.4,1110.0 706.8,1092.1 711.3,1059.3 714.3,1014.6 715.8,940.1 718.8,853.7 721.7,806.0 723.2,739.0 726.2,688.3 730.7,719.6 732.2,823.9 736.6,880.5 739.6,969.9 744.1,1011.6 747.1,1050.4 753.0,1109.9 757.5,1130.8 762.0,1151.7 766.4,1163.6 772.4,1166.6 790.0,1167.0 802.9,1169.0 815.2,1177.3 827.5,1182.2 883.0,1182.2 887.1,1185.5 897.4,1182.6 905.6,1184.7 1205.7,1184.7 1209.8,1182.6 1238.6,1182.6 1248.8,1191.7 1263.2,1188.4 1287.9,1183.4 1304.3,1184.7 1337.2,1187.5 1341.3,1184.7 1476.9,1184.7 1485.2,1183.4 1538.6,1180.1 1571.5,1176.0 1590.0,1172.4 1601.5,1172.4 1607.2,1166.7 1615.8,1165.2 1618.7,1158.1 1621.6,1146.6 1625.2,1126.5 1628.0,1102.1 1631.6,1077.7 1635.2,1074.9 1638.8,1082.0 1643.1,1095.0 1648.8,1109.3 1653.1,1120.8 1656.7,1124.4 1660.3,1117.9 1663.9,1108.6 1667.5,1095.0 1671.1,1082.0 1674.6,1066.3 1677.5,1050.5 1681.1,1022.5 1684.7,1005.3 1688.3,994.5 1690.4,992.4 1693.3,994.5 1695.5,998.8 1696.2,1014.6 1699.0,1016.0 1699.8,1042.6 1702.6,1043.3 1703.3,1063.4 1706.2,1064.8 1706.9,1083.5 1709.8,1084.9 1710.5,1105.0 1713.4,1106.4 1714.8,1115.0 1717.0,1132.3 1719.8,1133.7 1723.4,1146.6 1727.0,1155.2 1731.3,1161.7 1734.9,1165.2 1740.6,1166.7 1755.0,1166.7 1757.9,1162.4 1766.5,1158.1 1773.6,1150.9 1780.0,1144.1 1783.1,1137.9 1787.0,1134.0 1792.4,1128.6 1795.5,1127.1 1807.8,1127.1 1811.7,1130.2 1815.5,1135.6 1821.0,1142.5 1827.9,1147.2 1835.6,1151.0 1848.0,1151.0 1858.8,1147.2 1866.5,1143.3 1874.3,1134.8 1882.0,1128.6 1891.3,1124.0 1899.0,1117.8 1905.2,1111.6 1911.4,1102.4 1916.0,1093.1 1919.1,1080.7 1922.9,1068.4 1926.8,1054.4 1930.7,1040.5 1934.5,1026.6 1938.4,1012.7 1942.3,995.7 1946.1,980.3 1950.0,964.8 1953.1,950.9 1956.9,940.1 1962.4,937.0 1966.2,943.2 1967.8,961.7 1970.9,983.4 1974.7,1008.1 1978.6,1028.2 1981.7,1043.6 1984.8,1062.2 1988.6,1077.6 1992.5,1090.0 1996.4,1099.3 2001.0,1111.6 2005.6,1119.4 2011.8,1125.5 2018.0,1133.3 2027.3,1137.9 2036.5,1142.5 2040.0,1144.2 2045.9,1145.0 2047.3,1147.9 2056.1,1147.9 2057.6,1151.6 2069.4,1151.6 2070.1,1155.2 2074.5,1155.2 2078.9,1151.6 2079.6,1154.9 2097.2,1154.9 2098.0,1158.5 2114.9,1158.5 2115.6,1161.8 2123.7,1161.8 2126.6,1158.5 2129.5,1158.5 2132.5,1162.6 2133.9,1165.5 2141.3,1165.5 2143.5,1161.8 2147.1,1165.5 2157.4,1167.0 2160.4,1169.9 2164.8,1172.1 2167.0,1168.7 2178.0,1168.7 2180.9,1162.6 2185.3,1158.2 2188.2,1165.5 2191.2,1174.3 2193.4,1178.7 2195.6,1172.8 2200.0,1165.5 2202.9,1168.4 2205.9,1171.4 2210.3,1172.1 2214.7,1175.8 2218.3,1179.4 2221.3,1185.3 2229.3,1186.0 2232.3,1182.4 2236.0,1186.8 2238.9,1193.4 2241.8,1184.6 2245.5,1178.7 2249.9,1177.2 2253.6,1171.4 2257.2,1165.5 2266.0,1165.5 2266.8,1172.8 2270.4,1176.5 2273.4,1169.9 2274.1,1153.8 2277.0,1150.8 2280.7,1158.2 2284.4,1167.0 2288.1,1172.1 2288.8,1183.1 2291.0,1189.0 2295.4,1183.1 2298.3,1189.0 2304.2,1189.0 2307.1,1186.8 2314.5,1185.3 2317.4,1182.4 2321.8,1182.4 2324.0,1186.0 2328.4,1186.0" stroke="#00006e" fill="none" stroke-width="3" stroke-linejoin="miter" stroke-miterlimit="2"/>
<polyline points="30.0,819.6 35.9,822.6 49.8,822.6 52.0,818.9 56.4,823.3 59.4,829.2 62.3,835.0 68.2,839.4 81.4,840.2 82.8,843.1 99.0,843.1 101.9,839.4 106.3,843.1 120.3,844.6 121.7,846.8 155.5,846.8 157.0,850.4 169.4,850.4 170.9,846.8 197.3,846.8 200.3,843.1 205.4,839.4 208.3,841.6 213.5,846.8 220.1,850.4 242.8,850.4 244.3,846.8 253.8,846.8 256.8,843.1 264.8,839.4 278.1,836.5 289.8,832.8 300.1,826.2 314.0,822.6 319.2,816.7 322.9,805.7 326.6,797.6 330.3,794.7 333.9,798.3 341.3,804.9 345.0,811.5 347.9,816.0 362.6,816.0 369.2,823.3 372.8,829.9 376.5,826.2 380.2,816.0 383.1,798.3 386.8,788.1 390.5,788.1 391.9,796.9 396.3,805.7 400.0,795.4 401.5,788.1 405.1,788.1 408.1,791.7 419.8,791.7 422.7,795.4 427.1,795.4 429.3,791.7 441.1,791.7 443.3,785.1 449.2,778.5 454.3,771.9 457.2,766.8 461.6,767.5 464.6,774.9 468.2,788.1 471.9,798.3 478.5,801.3 485.9,802.7 490.3,807.1 493.2,812.3 507.9,812.3 510.8,808.6 514.5,804.9 520.4,796.1 524.8,788.1 528.4,780.7 532.8,781.5 535.0,788.1 538.7,791.7 541.6,802.7 545.3,811.5 549.0,816.0 553.4,816.0 556.3,805.7 559.2,793.9 562.9,781.5 568.0,781.5 569.5,787.3 573.9,787.3 576.1,777.8 584.2,777.8 585.7,780.7 590.1,779.3 593.0,774.1 595.2,763.1 598.1,760.2 601.8,766.8 605.5,777.8 609.2,785.1 612.1,795.4 615.0,808.6 618.0,811.5 622.7,807.1 629.7,779.0 638.1,742.5 640.9,703.1 645.2,658.1 648.0,593.4 652.2,556.9 655.0,552.6 659.2,559.7 662.0,593.4 666.2,597.6 669.1,630.0 670.5,672.2 674.7,703.1 678.9,734.0 683.1,762.1 688.7,787.4 694.4,790.3 700.0,784.6 704.2,767.8 708.4,734.0 711.2,697.5 715.5,630.0 718.3,554.0 721.1,511.9 722.5,447.2 725.3,385.3 728.1,378.3 730.9,403.6 733.7,503.4 736.5,554.0 739.4,638.4 743.6,680.6 747.8,720.0 752.0,762.1 757.6,779.0 761.9,818.4 766.0,826.0 771.0,828.0 778.2,823.2 800.8,823.2 809.0,833.4 831.7,843.7 868.6,846.6 963.2,849.9 1053.6,850.7 1390.6,850.7 1398.9,846.6 1505.7,844.9 1546.8,841.7 1575.6,837.5 1590.0,833.1 1601.0,833.1 1603.8,829.7 1610.7,829.0 1614.8,821.4 1618.3,811.7 1621.0,797.9 1625.2,769.0 1627.9,742.1 1631.4,740.0 1632.8,724.8 1635.5,722.1 1637.6,729.0 1639.0,737.2 1641.7,740.0 1644.5,749.0 1645.9,762.1 1649.3,762.8 1652.8,777.2 1656.2,784.8 1660.3,778.6 1663.8,766.2 1667.2,752.4 1670.7,738.6 1674.1,717.9 1677.6,697.2 1681.0,669.7 1685.2,652.4 1688.6,645.5 1692.1,649.0 1692.8,657.2 1695.5,660.0 1696.2,679.3 1699.0,680.7 1699.7,706.9 1702.4,708.3 1703.1,727.6 1705.9,729.0 1706.6,748.3 1709.3,749.7 1710.0,766.2 1712.8,766.9 1713.4,780.0 1716.2,781.4 1719.7,806.2 1723.8,809.0 1726.6,817.2 1732.1,822.1 1739.0,826.2 1759.7,826.2 1768.0,822.1 1774.8,815.9 1783.0,805.6 1790.4,798.2 1797.9,794.5 1801.6,795.2 1811.3,798.2 1815.8,804.9 1824.7,811.6 1832.2,816.1 1851.5,816.1 1862.0,812.3 1869.4,805.6 1881.3,795.2 1893.2,787.8 1903.7,783.3 1911.1,772.9 1915.6,765.4 1920.8,750.5 1924.5,738.6 1928.3,726.7 1932.0,714.7 1935.7,702.8 1938.7,693.9 1942.4,679.0 1946.1,665.6 1949.9,652.2 1952.9,638.7 1956.6,623.8 1961.8,621.6 1967.0,623.8 1970.0,638.7 1973.7,655.1 1977.4,676.0 1980.4,696.9 1984.1,710.3 1987.9,728.1 1990.8,741.6 1994.6,759.4 2001.3,768.4 2005.0,775.8 2012.4,784.8 2019.9,792.2 2030.3,798.2 2039.3,802.7 2042.9,805.2 2059.8,805.2 2061.3,809.1 2081.1,809.1 2082.6,812.3 2100.2,812.3 2100.9,815.7 2116.3,815.7 2117.8,819.3 2125.1,819.3 2125.9,822.9 2142.7,822.9 2145.7,826.7 2150.1,829.9 2153.8,826.2 2157.4,826.2 2160.4,829.9 2169.2,832.1 2178.0,826.2 2182.4,829.2 2186.8,829.9 2192.7,836.5 2198.5,829.9 2205.9,829.9 2210.3,836.5 2213.2,840.2 2220.5,840.2 2222.0,843.1 2233.7,843.8 2237.4,846.8 2241.1,843.1 2245.5,840.2 2252.8,838.7 2255.8,835.8 2259.4,832.8 2263.1,836.5 2267.5,838.7 2270.4,843.1 2273.4,836.5 2277.8,829.9 2282.2,830.6 2284.4,832.8 2288.1,836.5 2291.0,841.6 2291.7,846.8 2328.4,846.8" stroke="#b434a0" fill="none" stroke-width="3" stroke-linejoin="miter" stroke-miterlimit="2"/>
<polyline points="34.5,500.6 36.8,500.6 41.6,489.0 45.5,465.9 48.4,469.7 48.4,491.0 55.1,496.8 60.9,506.4 68.6,508.4 72.5,511.3 81.2,513.2 88.0,507.4 91.8,514.2 97.6,518.0 104.4,521.9 111.1,518.0 119.8,512.2 122.7,514.2 129.5,504.5 134.3,510.3 142.0,506.4 145.9,501.6 151.7,507.4 157.5,501.6 161.3,506.4 172.0,506.4 176.8,511.3 184.5,506.4 190.3,500.6 194.2,503.5 204.8,503.5 207.7,485.2 210.6,462.0 214.5,459.1 215.4,478.4 218.3,479.4 221.2,500.6 224.1,508.4 232.8,504.5 237.7,496.8 242.5,487.1 245.4,462.0 249.2,455.3 250.2,475.5 254.1,477.5 257.0,491.0 259.9,504.5 271.5,504.5 274.3,496.8 279.2,487.1 281.1,467.8 284.0,436.9 287.9,381.9 291.7,379.0 292.7,431.1 296.6,431.1 297.5,452.4 302.4,428.2 304.3,456.2 305.3,479.4 313.0,479.4 314.9,468.8 315.9,435.0 320.7,435.0 321.9,473.6 326.8,465.9 327.7,440.8 330.6,407.0 334.5,409.9 335.5,446.6 338.4,448.5 339.3,459.1 342.2,459.1 344.1,448.5 348.0,448.5 351.9,478.4 355.7,480.4 365.4,465.9 372.2,431.1 376.0,388.6 378.9,305.6 382.8,303.6 383.7,213.8 386.6,202.2 388.6,229.3 390.5,230.2 392.4,367.4 394.4,368.3 396.3,440.8 398.2,441.7 401.1,465.9 403.1,450.4 405.0,368.3 407.9,357.7 408.9,402.1 411.8,403.1 414.6,451.4 418.5,479.4 422.4,479.4 425.3,458.2 429.1,456.2 430.1,388.6 433.0,385.7 434.9,443.7 437.8,467.8 443.6,473.6 447.5,479.4 450.4,447.5 453.3,413.7 457.1,425.3 457.1,473.6 461.0,477.5 464.9,487.1 468.7,477.5 472.6,436.9 475.5,431.1 478.4,448.5 482.3,467.8 489.0,489.1 492.9,487.1 495.8,472.6 500.6,473.6 504.5,489.1 508.3,489.1 513.2,469.7 520.9,475.5 528.6,469.7 536.3,464.9 539.2,450.4 542.1,423.4 546.0,413.7 548.9,424.3 551.8,460.1 555.7,476.5 559.5,468.8 562.4,440.8 567.3,446.6 569.2,471.7 573.0,487.1 582.7,485.2 586.6,465.9 591.4,448.5 596.2,447.5 598.2,419.5 602.0,396.3 605.9,400.2 606.8,460.1 611.6,477.5 616.4,491.0 621.2,500.6 629.0,506.4 638.6,510.3 675.3,511.3 678.2,514.2 681.1,511.3 709.1,511.3 712.0,507.4 735.2,504.5 754.5,501.6 760.3,492.9 770.0,477.5 775.8,464.0 785.4,446.6 788.3,429.2 790.3,384.8 792.0,160.0 795.9,70.5 799.5,126.0 800.0,307.5 802.8,332.6 802.8,353.8 806.7,353.8 807.7,442.7 811.5,465.9 816.3,485.2 822.1,496.8 831.8,504.5 841.5,506.4 853.0,508.4 855.0,511.3 897.5,511.3 960.0,513.0 1070.0,514.0 1274.0,514.0 1278.0,512.0 1426.0,512.0 1428.0,507.0 1472.0,507.0 1475.0,504.0 1532.0,504.0 1534.0,500.6 1570.0,500.6 1572.0,497.5 1583.5,494.7 1595.0,490.9 1603.9,487.0 1609.0,478.0 1614.0,470.5 1617.9,466.7 1619.2,450.0 1621.7,413.7 1625.2,299.0 1627.5,260.8 1629.8,288.6 1632.1,289.7 1634.5,375.5 1636.8,402.1 1643.7,404.4 1647.2,426.5 1653.0,425.3 1656.5,413.7 1661.1,399.8 1668.1,358.1 1671.5,295.5 1675.0,294.4 1675.0,133.3 1677.3,95.1 1680.8,109.0 1682.0,214.4 1685.4,216.7 1686.6,266.6 1690.1,304.8 1693.6,346.5 1697.0,374.3 1699.3,390.5 1702.8,388.2 1706.3,372.0 1709.8,375.5 1713.3,395.2 1716.7,434.6 1721.4,460.1 1728.3,474.0 1735.3,483.2 1746.9,486.7 1767.7,486.7 1770.0,483.2 1787.8,483.4 1787.8,480.0 1804.2,475.9 1813.8,473.2 1817.9,466.3 1827.5,462.2 1834.4,458.1 1841.2,451.9 1846.7,442.3 1857.7,428.6 1865.9,417.7 1874.1,404.0 1879.6,393.0 1886.4,383.4 1890.5,373.8 1896.0,367.0 1905.6,359.5 1913.8,359.5 1915.2,362.2 1924.8,362.9 1928.9,366.3 1939.9,362.2 1946.7,355.3 1952.2,351.9 1964.5,351.9 1967.3,356.7 1974.1,365.6 1976.8,375.2 1981.0,383.4 1985.1,390.3 1991.9,401.2 1997.4,408.1 2005.6,416.3 2015.2,424.5 2020.7,428.6 2027.5,430.0 2030.3,435.5 2038.5,438.2 2040.5,442.3 2048.8,442.0 2054.7,448.6 2069.4,452.3 2081.1,456.0 2088.4,462.6 2104.6,467.0 2110.5,472.8 2120.7,473.6 2128.1,479.4 2142.7,484.6 2154.5,490.5 2169.2,494.9 2179.4,497.8 2189.7,502.2 2197.0,507.3 2216.1,508.1 2220.5,513.9 2230.8,511.7 2233.7,514.7 2242.6,514.7 2244.0,511.3 2282.2,511.3 2289.5,512.5 2295.4,517.6 2304.2,513.9 2314.5,512.5 2328.4,511.7" stroke="#a82228" fill="none" stroke-width="3" stroke-linejoin="miter" stroke-miterlimit="2"/>
<rect x="756" y="31" width="79" height="1698" fill="#fcfc78" style="mix-blend-mode:multiply"/>
<g stroke="#000" fill="none">
<line x1="32.5" y1="30.1" x2="2331.6" y2="30.1" stroke-width="3.4"/>
<line x1="34.2" y1="28.4" x2="34.2" y2="1726" stroke-width="3.3"/>
<line x1="2329.9" y1="28.4" x2="2329.9" y2="1728" stroke-width="3.3"/>
<line x1="29" y1="1729.8" x2="2334" y2="1729.8" stroke-width="3.4"/>
<line x1="252.9" y1="1729" x2="252.9" y2="1762.6" stroke-width="3.6"/>
<line x1="627.0" y1="1729" x2="627.0" y2="1762.6" stroke-width="3.6"/>
<line x1="997.0" y1="1729" x2="997.0" y2="1762.6" stroke-width="3.6"/>
<line x1="1367.1" y1="1729" x2="1367.1" y2="1762.6" stroke-width="3.6"/>
<line x1="1737.8" y1="1729" x2="1737.8" y2="1762.6" stroke-width="3.6"/>
<line x1="2111.2" y1="1729" x2="2111.2" y2="1762.6" stroke-width="3.6"/>
<line x1="69.7" y1="1729" x2="69.7" y2="1748.7" stroke-width="3.6"/>
<line x1="439.9" y1="1729" x2="439.9" y2="1748.7" stroke-width="3.6"/>
<line x1="810.2" y1="1729" x2="810.2" y2="1748.7" stroke-width="3.6"/>
<line x1="1183.8" y1="1729" x2="1183.8" y2="1748.7" stroke-width="3.6"/>
<line x1="1554.2" y1="1729" x2="1554.2" y2="1748.7" stroke-width="3.6"/>
<line x1="1924.0" y1="1729" x2="1924.0" y2="1748.7" stroke-width="3.6"/>
<line x1="2294.8" y1="1729" x2="2294.8" y2="1748.7" stroke-width="3.6"/>
</g>
<g font-family="'Liberation Serif', 'Times New Roman', serif" style="font-kerning:none">
<text x="168.5 208.4 251.0 293.6" y="1845" font-size="83" fill="#000">1000</text>
<text x="542.5 581.1 625.3 667.8" y="1845" font-size="83" fill="#000">1500</text>
<text x="908.7 952.6 995.1 1037.7" y="1845" font-size="83" fill="#000">2000</text>
<text x="1279.5 1322.3 1365.0 1407.6" y="1845" font-size="83" fill="#000">2500</text>
<text x="1650.7 1694.0 1736.6 1779.2" y="1845" font-size="83" fill="#000">3000</text>
<text x="2024.9 2068.2 2110.9 2153.4" y="1845" font-size="83" fill="#000">3500</text>
<text x="759.4 854.6 900.4 949.7 994.5 1044.7 1092.3 1175.0 1225.0 1264.9 1295.9 1326.2 1362.7 1406.1" y="2035" font-size="93" fill="#000">Wavenumber (cm</text>
<text x="1485.3 1519.5" y="1990.5" font-size="93" fill="#000">-1</text>
<text x="1564.3" y="2035" font-size="93" fill="#000">)</text>
<text x="837.9 873.9 914.5 953.4" y="162.6" font-size="78" fill="#000">1730</text>
<text x="1091.7 1165.5 1217.7" y="457.3" font-size="79" fill="#e3141c">MAG</text>
<text x="905.6 933.1 980.8 1038.5 1056.0 1128.7 1182.6 1239.6 1273.5 1313.0 1337.1 1387.2 1409.2 1439.3" y="786.5" font-size="79" fill="#ee3cbc">rPA/MAG 3 wt %</text>
<text x="905.6 933.1 980.8 1038.5 1056.0 1128.7 1182.3 1239.3 1271.2 1310.7 1337.2 1389.2 1419.2" y="1146.4" font-size="79" fill="#0c4678">rPA/MAG 2 wt%</text>
<text x="905.6 933.1 980.8 1038.5 1056.0 1128.7 1182.3 1239.3 1277.2 1316.7 1338.0 1389.2 1418.4" y="1426.4" font-size="79" fill="#00e46a">rPA/MAG 1 wt%</text>
<text x="1043.1 1087.9 1122.7 1156.8 1178.8 1202.2 1229.7 1277.3" y="1654.5" font-size="79" fill="#000">neat rPA</text>
</g>
</svg></body></html>
